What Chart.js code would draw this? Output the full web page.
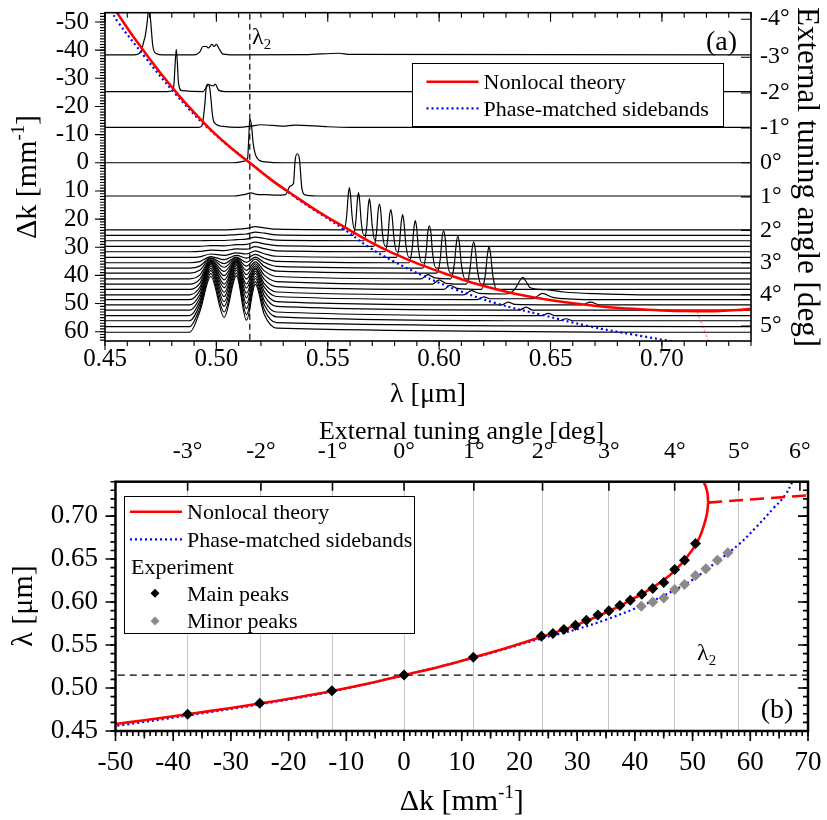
<!DOCTYPE html>
<html>
<head>
<meta charset="utf-8">
<script src="https://cdn.jsdelivr.net/npm/chart.js@4.4.0/dist/chart.umd.min.js"></script>
<style>
  html, body { margin: 0; padding: 0; background: #fff; }
  #wrap { position: relative; width: 827px; height: 820px; overflow: hidden; }
  #wrap canvas { position: absolute; left: 0; }
</style>
</head>
<body>
<div id="wrap">
  <canvas id="panelA" width="827" height="415" style="top:0"></canvas>
  <canvas id="panelB" width="827" height="415" style="top:405px"></canvas>
</div>
<script>
// ---------- data ----------
const lambda2 = 0.515;
const tuningAngles = [-4, -3, -2, -1, 0, 1, 2, 3, 4, 5, 6];
const tuningDk     = [-51, -37.5, -24.8, -12.4, 0, 12.1, 24, 35.5, 46.9, 58, 68.6];

const lamTicksA = [0.45, 0.50, 0.55, 0.60, 0.65, 0.70];
const dkTicksA  = [-50, -40, -30, -20, -10, 0, 10, 20, 30, 40, 50, 60];
const lamTicksB = [0.45, 0.50, 0.55, 0.60, 0.65, 0.70];
const dkTicksB  = [-50, -40, -30, -20, -10, 0, 10, 20, 30, 40, 50, 60, 70];

// theory curves as [dk, lambda]
const nonlocalLower = [[-54, 0.4548], [-50, 0.4582], [-45, 0.4625], [-37.5, 0.4695], [-30, 0.4768], [-25, 0.4820],
  [-20, 0.4875], [-12.5, 0.4965], [-5, 0.5070], [0, 0.5150], [6, 0.5245], [12, 0.5355], [18, 0.5470],
  [24, 0.5600], [28, 0.5688], [32, 0.5790], [36, 0.5910], [40, 0.6050], [43, 0.6165], [46, 0.6310],
  [48, 0.6440], [50, 0.6610], [51.2, 0.6750], [52, 0.6900], [52.5, 0.7030], [52.7, 0.7157]];
const nonlocalUpper  = [[52.7, 0.7157], [52.6, 0.7260], [52.3, 0.7340], [51.9, 0.7400]];
const nonlocalDashed = [[52.7, 0.7157], [70, 0.7242]];
const phaseMatched = [[-54, 0.4528], [-50, 0.4558], [-37.5, 0.4680], [-25, 0.4810], [-12.5, 0.4960], [0, 0.5150],
  [12, 0.5350], [24, 0.5580], [30, 0.5685], [35, 0.5795], [40, 0.5925], [45, 0.6075], [50, 0.6260],
  [54, 0.6460], [58, 0.6670], [61, 0.6870], [64, 0.7090], [66, 0.7240], [67.3, 0.7400]];

// measured peak positions
const mainDk  = [-37.5, -25, -12.5, 0, 12, 23.8, 25.8, 27.7, 29.7, 31.6, 33.6, 35.5, 37.4, 39.2, 41.2, 43.1, 45.0, 46.9, 48.6, 50.5];
const mainLam = [0.4695, 0.4822, 0.4968, 0.5152, 0.5358, 0.5603, 0.5635, 0.5682, 0.5729, 0.5789, 0.5848, 0.5900,
  0.5959, 0.6020, 0.6090, 0.6157, 0.6227, 0.6379, 0.6487, 0.6682];
const minorDk  = [41.1, 43.1, 45.0, 46.9, 48.6, 50.5, 52.3, 54.3, 56.1];
const minorLam = [0.5950, 0.6002, 0.6048, 0.6145, 0.6204, 0.6309, 0.6387, 0.6487, 0.6574];

// spectra, [lambda, height in dk units] above the trace baseline
const specM38 = [[0.45, 0], [0.463, 0], [0.466, 1], [0.4675, 5], [0.468, 6.5], [0.469, 12], [0.4697, 18], [0.4705, 12],
  [0.4715, 3], [0.473, 0.5], [0.476, 0], [0.490, 0], [0.4925, 1], [0.494, 3], [0.4955, 3], [0.4965, 2.5], [0.498, 3.8],
  [0.499, 3], [0.500, 3.8], [0.501, 2.5], [0.503, 0.3], [0.51, 0], [0.54, 0.1], [0.555, 0.6], [0.56, 0.2], [0.74, 0]];
const specM25 = [[0.45, 0], [0.478, 0], [0.4805, 0.5], [0.481, 3], [0.4815, 10], [0.482, 15], [0.4825, 10], [0.483, 3],
  [0.4845, 0.3], [0.494, 0], [0.4955, 1.5], [0.4965, 2.5], [0.4985, 2], [0.4995, 2.6], [0.501, 0.5], [0.504, 0], [0.74, 0]];
const specM12 = [[0.45, 0], [0.492, 0], [0.4935, 0.5], [0.4948, 8], [0.4955, 14.5], [0.4962, 15.3], [0.497, 14],
  [0.4985, 3], [0.500, 1], [0.503, 0.3], [0.51, 0], [0.515, 0.3], [0.52, 0.9], [0.53, 0.4], [0.535, 0.8], [0.55, 0.2],
  [0.56, 0], [0.74, 0]];
const spec0 = [[0.45, 0], [0.508, 0], [0.512, 0.5], [0.514, 1.5], [0.5145, 8], [0.515, 15.5], [0.5158, 13],
  [0.5165, 7], [0.5175, 3], [0.519, 1], [0.522, 0.3], [0.53, 0], [0.74, 0]];
const spec12 = [[0.45, 0], [0.508, 0], [0.513, 0.6], [0.5155, 1.1], [0.518, 0.6], [0.522, 0.5], [0.527, 0.3],
  [0.531, 0.5], [0.5331, 3.5], [0.5346, 4.4], [0.5354, 13], [0.5364, 15], [0.5373, 13], [0.5384, 2.6],
  [0.5398, 0.4], [0.545, 0], [0.74, 0]];
const sparseOffsets = [-38.3, -25.3, -12.6, 0, 11.8];

const denseOffsets = [23.8, 25.8, 27.7, 29.7, 31.6, 33.6, 35.5, 37.4, 39.2, 41.2, 43.1, 45.0, 46.9, 48.6, 50.5,
  52.3, 54.3, 56.1, 58.2, 60.2];
// pump-region humps of the dense traces
const densePumpLam = [0.488, 0.4925, 0.4975, 0.5035, 0.509, 0.5135, 0.5175, 0.5215, 0.527];
const densePump = [
  [0, 0, 0, 0, 0.2, 0.5, 1.1, 0.7, 0.2],
  [0, 0, 0, 0, 0.3, 0.5, 1.2, 0.8, 0.2],
  [0, 0, 0.1, 0.1, 0.4, 0.6, 1.3, 0.8, 0.2],
  [0, 0, 0.3, 0.2, 0.6, 0.7, 1.5, 0.9, 0.3],
  [0, 0.1, 0.6, 0.4, 1.0, 0.9, 1.8, 1.1, 0.3],
  [0, 0.2, 1.2, 0.7, 1.6, 1.2, 2.3, 1.3, 0.4],
  [0, 0.4, 2.2, 1.1, 2.6, 1.6, 3.0, 1.6, 0.5],
  [0, 0.7, 3.6, 1.6, 3.9, 2.0, 3.9, 2.0, 0.6],
  [0, 1.0, 5.2, 2.1, 5.4, 2.5, 5.0, 2.4, 0.7],
  [0, 1.3, 6.8, 2.6, 7.0, 3.0, 6.0, 2.8, 0.8],
  [0, 1.7, 8.4, 3.0, 8.6, 3.4, 7.2, 3.2, 0.9],
  [0, 2.1, 10.0, 3.4, 10.2, 3.7, 8.4, 3.6, 1.0],
  [0, 2.6, 11.5, 3.8, 11.8, 3.9, 9.6, 4.0, 1.0],
  [0, 3.1, 13.0, 4.2, 13.2, 4.1, 10.8, 4.4, 1.1],
  [0, 3.6, 14.4, 4.5, 14.6, 4.2, 12.0, 4.8, 1.2],
  [0, 4.2, 15.6, 4.8, 15.8, 4.3, 13.0, 5.1, 1.3],
  [0, 4.9, 16.8, 5.0, 17.0, 4.3, 14.0, 5.4, 1.3],
  [0, 5.6, 17.8, 5.1, 18.0, 4.3, 15.0, 5.7, 1.4],
  [0, 6.4, 18.8, 5.2, 19.0, 4.3, 16.0, 6.0, 1.4],
  [0, 7.2, 19.8, 5.3, 20.0, 4.3, 17.0, 6.3, 1.5]
];
// sideband peaks of the dense traces
const densePeaks = [
  [[0.5574, 0], [0.5585, 5], [0.5592, 12.5], [0.5597, 15], [0.5602, 12.5], [0.5609, 5], [0.5620, 0]],
  [[0.5614, 0], [0.5626, 5], [0.5633, 12.5], [0.5638, 15.2], [0.5643, 12.5], [0.5650, 5], [0.5662, 0]],
  [[0.5662, 0], [0.5675, 5], [0.5682, 12.5], [0.5687, 15], [0.5692, 12.5], [0.5700, 5], [0.5712, 0]],
  [[0.5706, 0], [0.5719, 5], [0.5726, 12.5], [0.5732, 15], [0.5738, 12.5], [0.5745, 5], [0.5758, 0]],
  [[0.5756, 0], [0.5770, 5], [0.5777, 12.5], [0.5783, 15], [0.5789, 12.5], [0.5797, 5], [0.5810, 0]],
  [[0.5808, 0], [0.5822, 5], [0.5830, 12.5], [0.5836, 15.2], [0.5842, 12.5], [0.5850, 5], [0.5864, 0]],
  [[0.5864, 0], [0.5879, 5], [0.5887, 12.5], [0.5893, 15], [0.5899, 12.5], [0.5907, 5], [0.5922, 0]],
  [[0.5926, 0], [0.5941, 5], [0.5949, 12.5], [0.5956, 15], [0.5963, 12.5], [0.5971, 5], [0.5986, 0]],
  [[0.5989, 0], [0.6005, 5], [0.6013, 12.5], [0.6020, 15], [0.6027, 12.5], [0.6035, 5], [0.6051, 0]],
  [[0.592, 0], [0.595, 1.5], [0.598, 0.3], [0.6052, 0], [0.6068, 5], [0.6077, 12.5], [0.6084, 15.2], [0.6091, 12.5], [0.6100, 5], [0.6116, 0]],
  [[0.597, 0], [0.600, 1.5], [0.603, 0.3], [0.6122, 0], [0.6138, 5], [0.6148, 12.5], [0.6155, 15], [0.6162, 12.5], [0.6172, 5], [0.6188, 0]],
  [[0.602, 0], [0.605, 1.5], [0.608, 0.4], [0.6190, 0], [0.6207, 5], [0.6217, 12.5], [0.6224, 15.2], [0.6231, 12.5], [0.6241, 5], [0.6258, 0]],
  [[0.611, 0], [0.6145, 1.5], [0.618, 0.5], [0.630, 0.3], [0.634, 2], [0.6362, 5], [0.6375, 6.2], [0.6388, 5], [0.641, 2.5], [0.648, 1.8], [0.656, 1.0], [0.67, 0.4], [0.69, 0]],
  [[0.617, 0], [0.620, 1], [0.623, 0.3], [0.642, 0.3], [0.6463, 2.2], [0.651, 0.8], [0.66, 0.2], [0.67, 0]],
  [[0.628, 0], [0.631, 1], [0.634, 0.2], [0.664, 0], [0.668, 1], [0.672, 0]],
  [[0.636, 0], [0.639, 1], [0.642, 0]],
  [[0.646, 0], [0.649, 0.8], [0.652, 0]],
  [[0.654, 0], [0.657, 0.7], [0.660, 0]],
  [],
  []
];

// ---------- helpers ----------
const FAM = "'Liberation Serif', 'Times New Roman', serif";
Chart.defaults.font.family = FAM;
Chart.defaults.color = '#000';

const RED = '#ff0000', BLUE = '#0000ff', GREY = '#8a8a8a';

function steps(a, b, d) {
  const out = [], n = Math.round((b - a) / d);
  for (let i = 0; i <= n; i++) out.push(+(a + i * d).toFixed(6));
  return out;
}
function spectrum(list, off) { return list.map(p => ({ x: p[0], y: off - p[1] })); }
function lamDk(list) { return list.map(p => ({ x: p[1], y: p[0] })); }   // x = lambda, y = dk
function dkLam(list) { return list.map(p => ({ x: p[0], y: p[1] })); }   // x = dk, y = lambda
function fixedTicks(values) { return s => { s.ticks = values.map(v => ({ value: v })); }; }
function tickFont(size) { return { family: FAM, size: size }; }
// fixed axis thickness, no extra room reserved for overhanging labels
function fitV(w) { return s => { s.width = w; s.paddingTop = 0; s.paddingBottom = 0; }; }
function fitH(h) { return s => { s.height = h; s.paddingLeft = 0; s.paddingRight = 0; }; }

function denseTrace(i) {
  const pts = [[0.45, 0]];
  densePumpLam.forEach((l, j) => pts.push([l, densePump[i][j]]));
  densePeaks[i].forEach(p => pts.push(p));
  pts.push([0.74, 0]);
  return spectrum(pts, denseOffsets[i]);
}

// text with super/subscript parts: [text, 0 | 1 (sup) | -1 (sub)]
function rich(ctx, parts, x, yBase, size, align) {
  let w = 0;
  const sz = parts.map(p => p[1] ? size * 0.62 : size);
  parts.forEach((p, i) => { ctx.font = sz[i] + 'px ' + FAM; w += ctx.measureText(p[0]).width; });
  let cx = align === 'center' ? x - w / 2 : (align === 'right' ? x - w : x);
  ctx.textAlign = 'left';
  ctx.textBaseline = 'alphabetic';
  parts.forEach((p, i) => {
    ctx.font = sz[i] + 'px ' + FAM;
    const dy = p[1] === 1 ? -size * 0.40 : (p[1] === -1 ? size * 0.22 : 0);
    ctx.fillText(p[0], cx, yBase + dy);
    cx += ctx.measureText(p[0]).width;
  });
}
function richRot(ctx, parts, cx, cy, size, angle) {
  ctx.save();
  ctx.translate(cx, cy);
  ctx.rotate(angle);
  rich(ctx, parts, 0, size * 0.32, size, 'center');
  ctx.restore();
}

function lineSample(ctx, ds, x0, x1, y) {
  ctx.save();
  ctx.strokeStyle = ds.borderColor;
  ctx.lineWidth = ds.borderWidth;
  ctx.setLineDash(ds.borderDash || []);
  ctx.beginPath(); ctx.moveTo(x0, y); ctx.lineTo(x1, y); ctx.stroke();
  ctx.restore();
}
function diamond(ctx, x, y, r, color) {
  ctx.save();
  ctx.fillStyle = color;
  ctx.beginPath();
  ctx.moveTo(x - r, y); ctx.lineTo(x, y - r); ctx.lineTo(x + r, y); ctx.lineTo(x, y + r);
  ctx.closePath(); ctx.fill();
  ctx.restore();
}

// frame and tick marks (major/minor, inward/outward) drawn from each scale
const marksPlugin = {
  id: 'marks',
  afterDraw(chart, args, opts) {
    const ctx = chart.ctx, a = chart.chartArea;
    ctx.save();
    ctx.strokeStyle = '#000';
    ctx.lineWidth = opts.tickWidth;
    for (const m of opts.list) {
      const s = chart.scales[m.scale];
      ctx.beginPath();
      for (const v of m.values) {
        if (v < s.min - 1e-9 || v > s.max + 1e-9) continue;
        const p = s.getPixelForValue(v);
        if (m.edge === 'bottom') { ctx.moveTo(p, a.bottom); ctx.lineTo(p, a.bottom + m.dir * m.len); }
        if (m.edge === 'top')    { ctx.moveTo(p, a.top);    ctx.lineTo(p, a.top - m.dir * m.len); }
        if (m.edge === 'left')   { ctx.moveTo(a.left, p);   ctx.lineTo(a.left - m.dir * m.len, p); }
        if (m.edge === 'right')  { ctx.moveTo(a.right, p);  ctx.lineTo(a.right + m.dir * m.len, p); }
      }
      ctx.stroke();
    }
    ctx.lineWidth = opts.frame;
    ctx.strokeRect(a.left, a.top, a.right - a.left, a.bottom - a.top);
    ctx.restore();
  }
};

// ---------- panel (a) ----------
const theoryA = [
  { label: 'Nonlocal theory', data: lamDk(nonlocalLower), borderColor: RED, borderWidth: 2.6, tension: 0.4 },
  { label: 'Nonlocal upper', data: lamDk(nonlocalUpper), borderColor: RED, borderWidth: 2.6, tension: 0.4 },
  { label: 'Nonlocal unstable', data: lamDk(nonlocalDashed), borderColor: 'rgba(255,0,0,0.35)', borderWidth: 1.5, borderDash: [3, 2] },
  { label: 'Phase-matched sidebands', data: lamDk(phaseMatched), borderColor: BLUE, borderWidth: 2.2, borderDash: [2, 3], tension: 0.4 },
  { label: 'lambda2', data: [{ x: lambda2, y: -60 }, { x: lambda2, y: 70 }], borderColor: '#000', borderWidth: 1.2, borderDash: [6, 4] }
];
const sparseSpectra = [specM38, specM25, specM12, spec0, spec12];
const traceSets = [];
sparseSpectra.forEach((s, i) => traceSets.push({ data: spectrum(s, sparseOffsets[i]) }));
denseOffsets.forEach((o, i) => traceSets.push({ data: denseTrace(i) }));
traceSets.forEach(d => Object.assign(d, { label: '', borderColor: '#000', borderWidth: 1.2, cubicInterpolationMode: 'monotone' }));

const setsA = theoryA.concat(traceSets).map(d => Object.assign({ showLine: true, pointRadius: 0, fill: false }, d));

const annotA = {
  id: 'annotA',
  afterDraw(chart) {
    const ctx = chart.ctx;
    ctx.save();
    // legend
    ctx.fillStyle = '#fff';
    ctx.fillRect(412.5, 63.5, 311, 63);
    ctx.strokeStyle = '#000'; ctx.lineWidth = 1;
    ctx.strokeRect(412.5, 63.5, 311, 63);
    lineSample(ctx, chart.data.datasets[0], 426.5, 478.5, 81.7);
    lineSample(ctx, chart.data.datasets[3], 426.5, 478.5, 108.3);
    ctx.fillStyle = '#000';
    rich(ctx, [[chart.data.datasets[0].label, 0]], 483.5, 89, 22, 'left');
    rich(ctx, [[chart.data.datasets[3].label, 0]], 483.5, 115.6, 22, 'left');
    // labels
    rich(ctx, [['(a)', 0]], 721.5, 49.5, 28, 'center');
    rich(ctx, [['λ', 0], ['2', -1]], 252, 44, 24, 'left');
    rich(ctx, [['λ [μm]', 0]], 428, 402, 28, 'center');
    richRot(ctx, [['Δk [mm', 0], ['-1', 1], [']', 0]], 26, 177, 30, -Math.PI / 2);
    richRot(ctx, [['External tuning angle [deg]', 0]], 808, 177, 31, Math.PI / 2);
    ctx.restore();
  }
};

new Chart(document.getElementById('panelA'), {
  type: 'scatter',
  data: { datasets: setsA },
  options: {
    responsive: false, animation: false,
    layout: { padding: { top: 12.7, left: 0, right: 0, bottom: 0 } },
    plugins: {
      legend: { display: false }, tooltip: { enabled: false },
      marks: {
        frame: 1.6, tickWidth: 1.1,
        list: [
          { scale: 'x', edge: 'bottom', dir: 1, len: 5, values: steps(0.45, 0.74, 0.01) },
          { scale: 'x', edge: 'bottom', dir: 1, len: 9, values: lamTicksA },
          { scale: 'x', edge: 'top', dir: -1, len: 5, values: steps(0.45, 0.74, 0.01) },
          { scale: 'x', edge: 'top', dir: -1, len: 9, values: lamTicksA },
          { scale: 'y', edge: 'left', dir: 1, len: 5, values: steps(-53, 63, 1) },
          { scale: 'y', edge: 'left', dir: 1, len: 10, values: dkTicksA },
          { scale: 'yr', edge: 'right', dir: -1, len: 10, values: tuningDk.slice(0, 10) }
        ]
      }
    },
    scales: {
      x: {
        type: 'linear', position: 'bottom', min: 0.45, max: 0.74,
        grid: { display: false, drawTicks: false }, border: { display: false },
        afterBuildTicks: fixedTicks(lamTicksA),
        ticks: { padding: 3, font: tickFont(25), maxRotation: 0, autoSkip: false, callback: v => v.toFixed(2) },
        afterFit: fitH(74)
      },
      y: {
        type: 'linear', position: 'left', reverse: true, min: -53.3, max: 63.3,
        grid: { display: false, drawTicks: false }, border: { display: false },
        afterBuildTicks: fixedTicks(dkTicksA),
        ticks: { padding: 16, font: tickFont(25), autoSkip: false, callback: v => String(v) },
        afterFit: fitV(105)
      },
      yr: {
        axis: 'y', type: 'linear', position: 'right', reverse: true, min: -53.3, max: 63.3,
        grid: { display: false, drawTicks: false }, border: { display: false },
        afterBuildTicks: fixedTicks(tuningDk.slice(0, 10)),
        ticks: { padding: 9, font: tickFont(24), autoSkip: false, callback: (v, i) => tuningAngles[i] + '°' },
        afterFit: fitV(76)
      }
    }
  },
  plugins: [annotA, marksPlugin]
});

// ---------- panel (b) ----------
const setsB = [
  { label: 'Main peaks', data: mainDk.map((d, i) => ({ x: d, y: mainLam[i] })), showLine: false,
    pointStyle: 'rectRot', pointRadius: 5.5, backgroundColor: '#000', borderWidth: 0 },
  { label: 'Minor peaks', data: minorDk.map((d, i) => ({ x: d, y: minorLam[i] })), showLine: false,
    pointStyle: 'rectRot', pointRadius: 5.5, backgroundColor: GREY, borderWidth: 0 },
  { label: 'Nonlocal theory', data: dkLam(nonlocalLower), showLine: true, borderColor: RED, borderWidth: 2.6, tension: 0.4, pointRadius: 0 },
  { label: 'Nonlocal upper', data: dkLam(nonlocalUpper), showLine: true, borderColor: RED, borderWidth: 2.6, tension: 0.4, pointRadius: 0 },
  { label: 'Nonlocal unstable', data: dkLam(nonlocalDashed), showLine: true, borderColor: RED, borderWidth: 2.6, borderDash: [14, 7], pointRadius: 0 },
  { label: 'Phase-matched sidebands', data: dkLam(phaseMatched), showLine: true, borderColor: BLUE, borderWidth: 2.2, borderDash: [2, 3], tension: 0.4, pointRadius: 0 },
  { label: 'lambda2', data: [{ x: -60, y: lambda2 }, { x: 80, y: lambda2 }], showLine: true, borderColor: '#000', borderWidth: 1.3, borderDash: [7, 5], pointRadius: 0 }
];

const annotB = {
  id: 'annotB',
  afterDraw(chart) {
    const ctx = chart.ctx, ds = chart.data.datasets;
    ctx.save();
    // legend
    ctx.fillStyle = '#fff';
    ctx.fillRect(124.5, 91.5, 290, 137);
    ctx.strokeStyle = '#000'; ctx.lineWidth = 1;
    ctx.strokeRect(124.5, 91.5, 290, 137);
    lineSample(ctx, ds[2], 130, 182, 106.7);
    lineSample(ctx, ds[5], 130, 182, 134.3);
    diamond(ctx, 155, 188.3, 4.5, ds[0].backgroundColor);
    diamond(ctx, 155, 216, 4.5, ds[1].backgroundColor);
    ctx.fillStyle = '#000';
    rich(ctx, [[ds[2].label, 0]], 187, 114, 22, 'left');
    rich(ctx, [[ds[5].label, 0]], 187, 141.6, 22, 'left');
    rich(ctx, [['Experiment', 0]], 131, 169, 22, 'left');
    rich(ctx, [[ds[0].label, 0]], 187, 195.6, 22, 'left');
    rich(ctx, [[ds[1].label, 0]], 187, 223.3, 22, 'left');
    // labels
    rich(ctx, [['(b)', 0]], 777, 312.5, 28, 'center');
    rich(ctx, [['λ', 0], ['2', -1]], 697, 255, 24, 'left');
    rich(ctx, [['External tuning angle [deg]', 0]], 461.5, 33.5, 26, 'center');
    rich(ctx, [['Δk [mm', 0], ['-1', 1], [']', 0]], 461.7, 405, 30, 'center');
    richRot(ctx, [['λ [μm]', 0]], 22, 201, 30, -Math.PI / 2);
    ctx.restore();
  }
};

new Chart(document.getElementById('panelB'), {
  type: 'scatter',
  data: { datasets: setsB },
  options: {
    responsive: false, animation: false,
    layout: { padding: { top: 0, left: 0, right: 19, bottom: 0 } },
    plugins: {
      legend: { display: false }, tooltip: { enabled: false },
      marks: {
        frame: 2.5, tickWidth: 1.6,
        list: [
          { scale: 'x', edge: 'bottom', dir: 1, len: 5, values: steps(-50, 70, 1) },
          { scale: 'x', edge: 'bottom', dir: 1, len: 7.5, values: steps(-45, 65, 10) },
          { scale: 'x', edge: 'bottom', dir: 1, len: 10, values: dkTicksB },
          { scale: 'x2', edge: 'top', dir: -1, len: 9, values: tuningDk.slice(1) },
          { scale: 'y', edge: 'left', dir: 1, len: 5, values: steps(0.45, 0.74, 0.01) },
          { scale: 'y', edge: 'left', dir: 1, len: 10, values: lamTicksB },
          { scale: 'y', edge: 'right', dir: -1, len: 5, values: steps(0.45, 0.74, 0.01) },
          { scale: 'y', edge: 'right', dir: -1, len: 10, values: lamTicksB }
        ]
      }
    },
    scales: {
      x: {
        type: 'linear', position: 'bottom', min: -50, max: 70,
        grid: { display: false, drawTicks: false }, border: { display: false },
        afterBuildTicks: fixedTicks(dkTicksB),
        ticks: { padding: 15.8, font: tickFont(27), maxRotation: 0, autoSkip: false, callback: v => String(v) },
        afterFit: fitH(89)
      },
      x2: {
        axis: 'x', type: 'linear', position: 'top', min: -50, max: 70,
        grid: { display: true, drawOnChartArea: true, drawTicks: false, lineWidth: 1,
                color: c => (c.tick && c.tick.value <= 60) ? '#c8c8c8' : 'rgba(0,0,0,0)' },
        border: { display: false },
        afterBuildTicks: fixedTicks(tuningDk.slice(1)),
        ticks: { padding: 15.6, font: tickFont(24), maxRotation: 0, autoSkip: false, callback: (v, i) => tuningAngles[i + 1] + '°' },
        afterFit: fitH(76.7)
      },
      y: {
        type: 'linear', position: 'left', min: 0.45, max: 0.74,
        grid: { display: false, drawTicks: false }, border: { display: false },
        afterBuildTicks: fixedTicks(lamTicksB),
        ticks: { padding: 17.5, font: tickFont(27), autoSkip: false, callback: v => v.toFixed(2) },
        afterFit: fitV(115.5)
      }
    }
  },
  plugins: [annotB, marksPlugin]
});
</script>
</body>
</html>
